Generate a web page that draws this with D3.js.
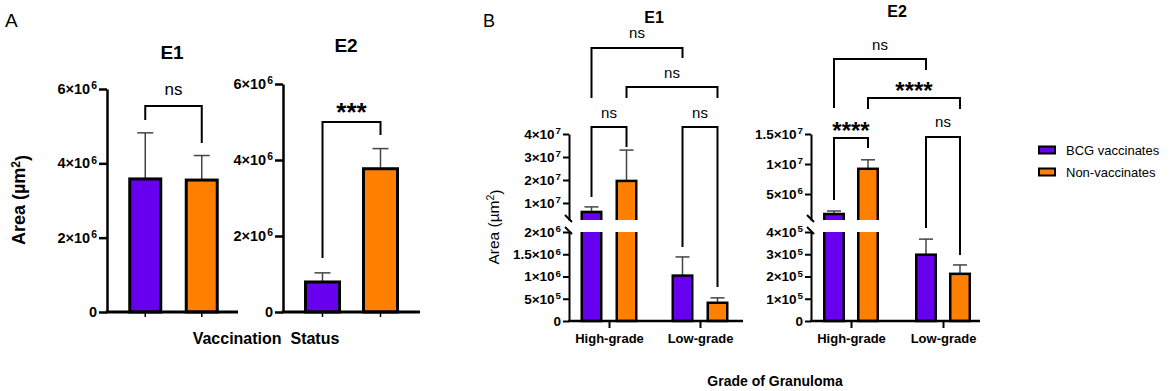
<!DOCTYPE html>
<html><head><meta charset="utf-8">
<script src="https://cdn.jsdelivr.net/npm/d3@7"></script>
<style>body{margin:0;background:#fff}</style>
</head><body>
<script>
// ---------------- data ----------------
const seriesNames = ["BCG vaccinates", "Non-vaccinates"];
const seriesColors = ["#6600ee", "#ff8000"];

const aE1Mean = [3.58e6, 3.55e6];
const aE1Err  = [1.24e6, 0.66e6];
const aE2Mean = [0.79e6, 3.77e6];
const aE2Err  = [0.24e6, 0.53e6];
const aTicks  = [0, 2e6, 4e6, 6e6];
const aDomain = [0, 6e6];

const grades = ["High-grade", "Low-grade"];
const bE1Bcg    = [6.1e6, 1.02e6];
const bE1BcgErr = [2.2e6, 0.42e6];
const bE1Non    = [1.96e7, 0.41e6];
const bE1NonErr = [1.34e7, 0.11e6];
const bE2Bcg    = [1.67e6, 2.98e5];
const bE2BcgErr = [0.5e6, 0.7e5];
const bE2Non    = [9.2e6, 2.12e5];
const bE2NonErr = [1.5e6, 0.4e5];

const bE1LowTicks  = [0, 5e5, 1e6, 1.5e6, 2e6];
const bE1HighTicks = [1e7, 2e7, 3e7, 4e7];
const bE2LowTicks  = [0, 1e5, 2e5, 3e5, 4e5];
const bE2HighTicks = [5e6, 1e7, 1.5e7];
const bE1LowDomain = [0, 2e6],  bE1HighDomain = [2.6e6, 4e7];
const bE2LowDomain = [0, 4e5],  bE2HighDomain = [6.7e5, 1.5e7];

// ---------------- setup ----------------
const FF = "'Liberation Sans', Arial, Helvetica, sans-serif";
const svg = d3.select("body").append("svg").attr("width", 1170).attr("height", 391)
  .style("font-family", FF);

function fmtParts(v) {
  if (v === 0) return ["0", ""];
  const e = Math.floor(Math.log10(v) + 1e-9);
  const m = +(v / Math.pow(10, e)).toFixed(2);
  return [m + "×10", String(e)];
}
function styleAxis(ax, fs, sw) {
  ax.attr("font-family", FF).attr("font-size", null);
  ax.select(".domain").attr("stroke", "#000").attr("stroke-width", sw);
  ax.selectAll(".tick line").attr("stroke", "#000").attr("stroke-width", sw);
  ax.selectAll(".tick text").each(function(d) {
    const t = d3.select(this);
    const [m, e] = fmtParts(d);
    t.text(null).attr("fill", "#000").attr("font-weight", "bold").attr("font-size", fs + "px");
    t.append("tspan").text(m);
    if (e) t.append("tspan").attr("dx", "0.1em").attr("dy", "-0.45em").attr("font-size", (fs * 0.72) + "px").text(e);
  });
}
function bracket(g, x1, x2, yTop, yL, yR, label, labelY, isStar, fs) {
  g.append("path")
    .attr("d", `M${x1},${yL}V${yTop}H${x2}V${yR}`)
    .attr("fill", "none").attr("stroke", "#000").attr("stroke-width", 2);
  const base = isStar ? labelY + fs * 0.58 : labelY;
  g.append("text").attr("x", (x1 + x2) / 2).attr("y", base)
    .attr("text-anchor", "middle").attr("font-size", fs + "px")
    .attr("font-weight", isStar ? "bold" : "normal").text(label);
}
function errorBar(g, cx, yv, ye, cap) {
  g.append("line").attr("x1", cx).attr("x2", cx).attr("y1", yv).attr("y2", ye)
    .attr("stroke", "#444").attr("stroke-width", 1.5);
  g.append("line").attr("x1", cx - cap / 2).attr("x2", cx + cap / 2).attr("y1", ye).attr("y2", ye)
    .attr("stroke", "#444").attr("stroke-width", 1.5);
}

// ---------------- Panel A ----------------
function drawA(cfg) {
  const g = svg.append("g");
  const y = d3.scaleLinear().domain(aDomain).range([cfg.y0, cfg.yTop]);
  const x = d3.scalePoint().domain(seriesNames).range(cfg.centers);
  const ax = g.append("g").attr("transform", `translate(${cfg.x0},0)`)
    .call(d3.axisLeft(y).tickValues(aTicks).tickSize(8).tickSizeOuter(0).tickPadding(2));
  styleAxis(ax, 14.5, 2.5);
  seriesNames.forEach((s, i) => {
    errorBar(g, x(s), y(cfg.mean[i]), y(cfg.mean[i] + cfg.err[i]), 16);
  });
  g.selectAll("rect.bar").data(seriesNames).join("rect")
    .attr("x", s => x(s) - cfg.barW / 2 + 1.5).attr("width", cfg.barW - 3)
    .attr("y", (s, i) => y(cfg.mean[i])).attr("height", (s, i) => cfg.y0 - y(cfg.mean[i]))
    .attr("fill", (s, i) => seriesColors[i]).attr("stroke", "#000").attr("stroke-width", 3);
  g.append("line").attr("x1", cfg.x0 - 1.25).attr("x2", cfg.x1).attr("y1", cfg.y0).attr("y2", cfg.y0)
    .attr("stroke", "#000").attr("stroke-width", 3);
  seriesNames.forEach(s => g.append("line").attr("x1", x(s)).attr("x2", x(s))
    .attr("y1", cfg.y0).attr("y2", cfg.y0 + 5).attr("stroke", "#000").attr("stroke-width", 1.5));
  g.append("text").attr("x", cfg.titleX).attr("y", cfg.titleY).attr("text-anchor", "middle")
    .attr("font-weight", "bold").attr("font-size", "19px").text(cfg.title);
  const b = cfg.sig;
  bracket(g, x(seriesNames[0]), x(seriesNames[1]), b.top, b.yl, b.yr, b.label, b.ly, b.star, b.fs);
}
drawA({x0: 107, x1: 238, y0: 312, yTop: 89, centers: [145.25, 201.75], barW: 34,
  mean: aE1Mean, err: aE1Err, title: "E1", titleX: 172, titleY: 59,
  sig: {top: 106, yl: 120, yr: 143, label: "ns", ly: 95, star: false, fs: 17}});
drawA({x0: 283, x1: 420, y0: 312, yTop: 84, centers: [322.5, 380.5], barW: 37,
  mean: aE2Mean, err: aE2Err, title: "E2", titleX: 346, titleY: 52,
  sig: {top: 122, yl: 258, yr: 135, label: "***", ly: 106, star: true, fs: 26}});

svg.append("text").attr("x", 5).attr("y", 27).attr("font-size", "19px").text("A");
svg.append("text").attr("transform", "translate(25,200) rotate(-90)").attr("text-anchor", "middle")
  .attr("font-weight", "bold").attr("font-size", "18px")
  .call(t => { t.append("tspan").text("Area (µm"); t.append("tspan").attr("dy", "-0.45em").attr("font-size", "12px").text("2"); t.append("tspan").attr("dy", "0.45em").text(")"); });
svg.append("text").attr("x", 266).attr("y", 344).attr("text-anchor", "middle")
  .attr("font-weight", "bold").attr("font-size", "16px").attr("xml:space", "preserve").text("Vaccination  Status");

// ---------------- Panel B ----------------
function drawB(cfg) {
  const g = svg.append("g");
  const yLow = d3.scaleLinear().domain(cfg.lowDomain).range([321, 232]);
  const yHigh = d3.scaleLinear().domain(cfg.highDomain).range([220, 134]);
  const gx = d3.scalePoint().domain(grades).range(cfg.centers);
  const sx = d3.scaleBand().domain(seriesNames).range([-cfg.off * 2, cfg.off * 2]);
  const xc = (gi, si) => gx(grades[gi]) + sx(seriesNames[si]) + sx.bandwidth() / 2;
  const yOf = v => v > cfg.lowDomain[1] ? yHigh(v) : yLow(v);

  const axL = g.append("g").attr("transform", `translate(${cfg.x0},0)`)
    .call(d3.axisLeft(yLow).tickValues(cfg.lowTicks).tickSize(6).tickSizeOuter(0).tickPadding(2));
  styleAxis(axL, 13.5, 2);
  const axH = g.append("g").attr("transform", `translate(${cfg.x0},0)`)
    .call(d3.axisLeft(yHigh).tickValues(cfg.highTicks).tickSize(6).tickSizeOuter(0).tickPadding(2));
  styleAxis(axH, 13.5, 2);
  [219, 231].forEach(yy => g.append("line").attr("x1", cfg.x0 - 4).attr("y1", yy - 4)
    .attr("x2", cfg.x0 + 3).attr("y2", yy + 3).attr("stroke", "#000").attr("stroke-width", 2));

  const idLow = "clipLow" + cfg.id, idHigh = "clipHigh" + cfg.id;
  const defs = g.append("defs");
  defs.append("clipPath").attr("id", idLow).append("rect").attr("x", 0).attr("y", 232).attr("width", 1170).attr("height", 120);
  defs.append("clipPath").attr("id", idHigh).append("rect").attr("x", 0).attr("y", 0).attr("width", 1170).attr("height", 220);

  const series = [cfg.bcg, cfg.non], errs = [cfg.bcgErr, cfg.nonErr];
  series.forEach((vals, si) => vals.forEach((v, gi) => {
    const cx = xc(gi, si);
    errorBar(g, cx, yOf(v), yOf(v + errs[si][gi]), 14);
    const bw = cfg.barW - 2.5;
    const lowTop = v > cfg.lowDomain[1] ? 226 : yLow(v);
    g.append("rect").attr("clip-path", `url(#${idLow})`)
      .attr("x", cx - bw / 2).attr("width", bw).attr("y", lowTop).attr("height", 321 - lowTop)
      .attr("fill", seriesColors[si]).attr("stroke", "#000").attr("stroke-width", 2.5);
    if (v > cfg.lowDomain[1]) {
      g.append("rect").attr("clip-path", `url(#${idHigh})`)
        .attr("x", cx - bw / 2).attr("width", bw).attr("y", yHigh(v)).attr("height", 226 - yHigh(v))
        .attr("fill", seriesColors[si]).attr("stroke", "#000").attr("stroke-width", 2.5);
    }
  }));

  g.append("line").attr("x1", cfg.x0 - 1).attr("x2", cfg.x1).attr("y1", 321).attr("y2", 321)
    .attr("stroke", "#000").attr("stroke-width", 2.5);
  const axX = g.append("g").attr("transform", "translate(0,321)")
    .call(d3.axisBottom(gx).tickSize(7).tickPadding(5));
  axX.select(".domain").remove();
  axX.attr("font-family", FF).attr("font-size", null);
  axX.selectAll(".tick line").attr("stroke", "#000").attr("stroke-width", 2);
  axX.selectAll(".tick text").attr("fill", "#000").attr("font-weight", "bold").attr("font-size", "13px")
    .attr("dy", null).attr("y", 22);

  g.append("text").attr("x", cfg.titleX).attr("y", cfg.titleY).attr("text-anchor", "middle")
    .attr("font-weight", "bold").attr("font-size", "16px").text(cfg.title);

  cfg.sigs.forEach(b => bracket(g, xc(b.a[0], b.a[1]), xc(b.b[0], b.b[1]),
    b.top, b.yl, b.yr, b.label, b.ly, b.star, b.star ? 24 : 15));
}
drawB({id: "E1", x0: 569, x1: 743, centers: [609, 700], off: 17.5, barW: 22,
  lowDomain: bE1LowDomain, highDomain: bE1HighDomain, lowTicks: bE1LowTicks, highTicks: bE1HighTicks,
  bcg: bE1Bcg, bcgErr: bE1BcgErr, non: bE1Non, nonErr: bE1NonErr,
  title: "E1", titleX: 654, titleY: 23,
  sigs: [
    {a: [0, 0], b: [0, 1], top: 127, yl: 197, yr: 147, label: "ns", ly: 118, star: false},
    {a: [1, 0], b: [1, 1], top: 127, yl: 247, yr: 287, label: "ns", ly: 118, star: false},
    {a: [0, 0], b: [1, 0], top: 48, yl: 98, yr: 58, label: "ns", ly: 38, star: false},
    {a: [0, 1], b: [1, 1], top: 87, yl: 98, yr: 98, label: "ns", ly: 78, star: false}
  ]});
drawB({id: "E2", x0: 811, x1: 980, centers: [851, 943], off: 17, barW: 22,
  lowDomain: bE2LowDomain, highDomain: bE2HighDomain, lowTicks: bE2LowTicks, highTicks: bE2HighTicks,
  bcg: bE2Bcg, bcgErr: bE2BcgErr, non: bE2Non, nonErr: bE2NonErr,
  title: "E2", titleX: 897, titleY: 17,
  sigs: [
    {a: [0, 0], b: [0, 1], top: 138, yl: 200, yr: 148, label: "****", ly: 125, star: true},
    {a: [1, 0], b: [1, 1], top: 137, yl: 228, yr: 255, label: "ns", ly: 127, star: false},
    {a: [0, 0], b: [1, 0], top: 59, yl: 108, yr: 70, label: "ns", ly: 50, star: false},
    {a: [0, 1], b: [1, 1], top: 98, yl: 109, yr: 109, label: "****", ly: 85, star: true}
  ]});

svg.append("text").attr("x", 483).attr("y", 27).attr("font-size", "18px").text("B");
svg.append("text").attr("transform", "translate(499,227) rotate(-90)").attr("text-anchor", "middle")
  .attr("font-size", "15.5px")
  .call(t => { t.append("tspan").text("Area (µm"); t.append("tspan").attr("dy", "-0.45em").attr("font-size", "10.5px").text("2"); t.append("tspan").attr("dy", "0.45em").text(")"); });
svg.append("text").attr("x", 775).attr("y", 386).attr("text-anchor", "middle")
  .attr("font-weight", "bold").attr("font-size", "14px").text("Grade of Granuloma");

// legend
const leg = svg.append("g");
seriesNames.forEach((s, i) => {
  const yy = 150 + i * 22;
  leg.append("rect").attr("x", 1039).attr("y", yy - 3.5).attr("width", 16).attr("height", 7)
    .attr("fill", seriesColors[i]).attr("stroke", "#000").attr("stroke-width", 2);
  leg.append("text").attr("x", 1066).attr("y", yy + 4.5).attr("font-size", "13px").text(s);
});
</script>
</body></html>
